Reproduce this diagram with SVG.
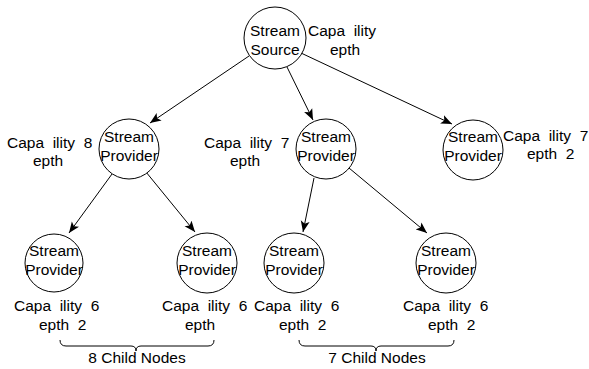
<svg xmlns="http://www.w3.org/2000/svg" width="589" height="369" viewBox="0 0 589 369">
<defs>
<style>
text{font-family:"Liberation Sans",Arial,sans-serif;font-size:15.5px;fill:#000;white-space:pre}
.n{text-anchor:middle}
circle{fill:#fff;stroke:#000;stroke-width:1}
.c line{stroke:#000;stroke-width:1}
.br{fill:none;stroke:#000;stroke-width:1}
</style>
<marker id="ah" markerUnits="userSpaceOnUse" markerWidth="12" markerHeight="10" refX="11" refY="5" orient="auto" viewBox="0 0 12 10">
<path d="M0,0.5 L11,5 L0,9.5 L2.5,5 Z" fill="#000"/>
</marker>
</defs>
<rect width="589" height="369" fill="#fff"/>
<g class="c" id="connectors">
<line x1="249" y1="56" x2="150" y2="123" marker-end="url(#ah)"/>
<line x1="287" y1="67" x2="313" y2="120" marker-end="url(#ah)"/>
<line x1="301" y1="53" x2="452" y2="124" marker-end="url(#ah)"/>
<line x1="112" y1="174" x2="69" y2="233" marker-end="url(#ah)"/>
<line x1="146" y1="172" x2="195" y2="232" marker-end="url(#ah)"/>
<line x1="314" y1="178" x2="303" y2="232" marker-end="url(#ah)"/>
<line x1="349" y1="168" x2="427" y2="233" marker-end="url(#ah)"/>
</g>
<g id="source">
<circle cx="275" cy="38" r="31"/>
<text class="n" x="275" y="36">Stream</text>
<text class="n" x="275" y="55">Source</text>
<text x="308" y="36" xml:space="preserve">Capa  ility</text>
<text x="330" y="55">epth</text>
</g>
<g id="provider1">
<circle cx="129" cy="149" r="30"/>
<text class="n" x="129" y="142">Stream</text>
<text class="n" x="129" y="161">Provider</text>
<text x="7" y="148" xml:space="preserve">Capa  ility  8</text>
<text x="33" y="166">epth</text>
</g>
<g id="provider2">
<circle cx="326" cy="149" r="30"/>
<text class="n" x="326" y="142">Stream</text>
<text class="n" x="326" y="161">Provider</text>
<text x="204" y="148" xml:space="preserve">Capa  ility  7</text>
<text x="230" y="166">epth</text>
</g>
<g id="provider3">
<circle cx="473" cy="150" r="30"/>
<text class="n" x="473" y="142">Stream</text>
<text class="n" x="473" y="161">Provider</text>
<text x="503" y="141" xml:space="preserve">Capa  ility  7</text>
<text x="527" y="159" xml:space="preserve">epth  2</text>
</g>
<g id="child1">
<circle cx="54" cy="263" r="29"/>
<text class="n" x="54" y="256">Stream</text>
<text class="n" x="54" y="275">Provider</text>
<text x="14" y="311" xml:space="preserve">Capa  ility  6</text>
<text x="39" y="330" xml:space="preserve">epth  2</text>
</g>
<g id="child2">
<circle cx="207" cy="263" r="30"/>
<text class="n" x="207" y="256">Stream</text>
<text class="n" x="207" y="275">Provider</text>
<text x="162" y="311" xml:space="preserve">Capa  ility  6</text>
<text x="185" y="330">epth</text>
</g>
<g id="child3">
<circle cx="294" cy="263" r="30"/>
<text class="n" x="294" y="256">Stream</text>
<text class="n" x="294" y="275">Provider</text>
<text x="254" y="311" xml:space="preserve">Capa  ility  6</text>
<text x="279" y="330" xml:space="preserve">epth  2</text>
</g>
<g id="child4">
<circle cx="446" cy="263" r="30"/>
<text class="n" x="446" y="256">Stream</text>
<text class="n" x="446" y="275">Provider</text>
<text x="403" y="311" xml:space="preserve">Capa  ility  6</text>
<text x="428" y="330" xml:space="preserve">epth  2</text>
</g>
<g id="brace1">
<path class="br" d="M60,340 Q60,346 66,346 L131,346 Q136,346 136,351 Q136,346 141,346 L208,346 Q214,346 214,340"/>
<text class="n" x="137" y="363">8 Child Nodes</text>
</g>
<g id="brace2">
<path class="br" d="M299,340 Q299,346 305,346 L371,346 Q376,346 376,351 Q376,346 381,346 L448,346 Q454,346 454,340"/>
<text class="n" x="377" y="363">7 Child Nodes</text>
</g>
</svg>
